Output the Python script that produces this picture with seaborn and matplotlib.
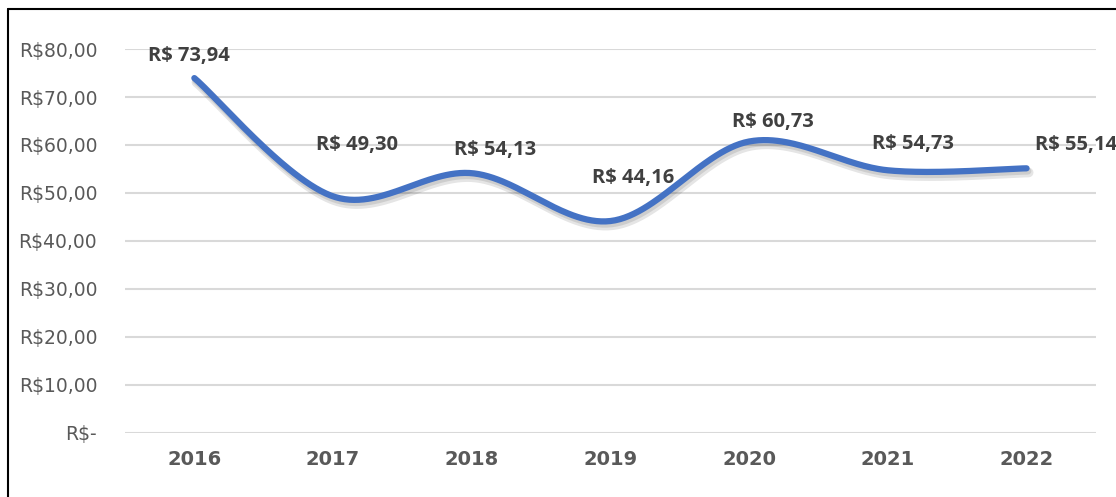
import numpy as np
import pandas as pd
import matplotlib.pyplot as plt
import matplotlib.patheffects as pe
from matplotlib.lines import Line2D
import seaborn as sns

# ------------------------
# Data
# ------------------------
years = ['2016', '2017', '2018', '2019', '2020', '2021', '2022']
avg_price = [73.94, 49.30, 54.13, 44.16, 60.73, 54.73, 55.14]
price_labels = ['R$ 73,94', 'R$ 49,30', 'R$ 54,13', 'R$ 44,16', 'R$ 60,73', 'R$ 54,73', 'R$ 55,14']
y_ticks = [0, 10, 20, 30, 40, 50, 60, 70, 80]

# label offsets in points (dx, dy) - placed by hand like in the original
label_offsets = [(-4, 16), (17, 37), (17, 17), (16, 31), (17, 14), (18, 19), (6, 17)]

sns.set_theme(style="white")
plt.rcParams['font.family'] = ['DejaVu Sans']


# ------------------------
# Excel-like smoothed line (cubic bezier, catmull-rom control points)
# ------------------------
def smooth_line(xs, ys, n=60):
    pts = np.column_stack([xs, ys]).astype(float)
    ext = np.vstack([pts[0], pts, pts[-1]])
    out = []
    for i in range(len(pts) - 1):
        p0, p1, p2, p3 = ext[i], ext[i + 1], ext[i + 2], ext[i + 3]
        c1 = p1 + (p2 - p0) / 6
        c2 = p2 - (p3 - p1) / 6
        t = np.linspace(0, 1, n)[:, None]
        seg = ((1 - t) ** 3) * p1 + 3 * ((1 - t) ** 2) * t * c1 + 3 * (1 - t) * t ** 2 * c2 + t ** 3 * p2
        out.append(seg if i == 0 else seg[1:])
    return np.vstack(out)


xpos = np.arange(len(years))
curve = smooth_line(xpos, avg_price)
curve_df = pd.DataFrame({'x': curve[:, 0], 'price': curve[:, 1]})

fig = plt.figure(figsize=(11.16, 4.97), dpi=100)
ax = fig.add_axes([0.112, 0.1288, 0.870, 0.7726])

sns.lineplot(data=curve_df, x='x', y='price', ax=ax, color='#4472C4', linewidth=4.5,
             sort=False, estimator=None, solid_capstyle='round',
             path_effects=[pe.SimpleLineShadow(offset=(1.5, -3), alpha=0.10, shadow_color='black',
                                               linewidth=7),
                           pe.SimpleLineShadow(offset=(1, -2), alpha=0.10, shadow_color='black',
                                               linewidth=5),
                           pe.Normal()])

for i, (v, lab) in enumerate(zip(avg_price, price_labels)):
    dx, dy = label_offsets[i]
    ax.annotate(lab, (xpos[i], v), xytext=(dx, dy), textcoords='offset points',
                ha='left' if i == len(years) - 1 else 'center', va='center',
                fontsize=14.5, fontweight='bold', color='#404040', family=['Open Sans', 'DejaVu Sans'],
                annotation_clip=False)

ax.set_xlim(-0.5, len(years) - 0.5)
ax.set_ylim(0, 80)
ax.set_yticks(y_ticks)
ax.set_yticklabels(['R$-' if t == 0 else f'R${t},00' for t in y_ticks])
ax.set_xticks(xpos)
ax.set_xticklabels(years, fontweight='bold')
ax.tick_params(axis='y', length=0, pad=20, labelsize=13.5, labelcolor='#595959')
ax.tick_params(axis='x', length=0, pad=12, labelsize=14, labelcolor='#595959')
ax.grid(axis='y', color='#D9D9D9', linewidth=1.5)
ax.set_axisbelow(True)
ax.set_xlabel('')
ax.set_ylabel('')
sns.despine(ax=ax, left=True, bottom=True)

# chart border (left and top edges visible in the crop)
fig.add_artist(Line2D([8 / 1116, 8 / 1116], [0, 1 - 9 / 497], color='black', linewidth=1.5,
                      transform=fig.transFigure))
fig.add_artist(Line2D([8 / 1116, 1], [1 - 9 / 497, 1 - 9 / 497], color='black', linewidth=1.5,
                      transform=fig.transFigure))

plt.savefig("out.png", dpi=100)
